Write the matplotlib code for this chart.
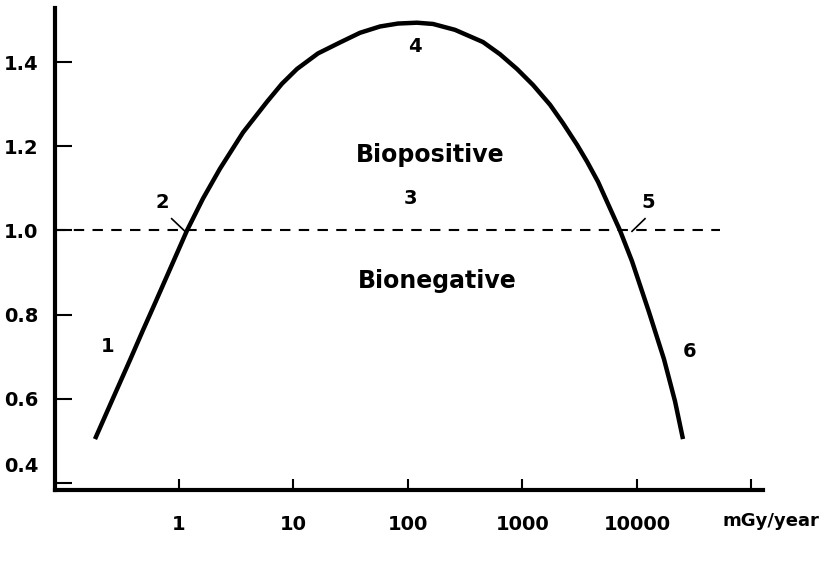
import matplotlib.pyplot as plt
import matplotlib.transforms as mtransforms
from matplotlib.ticker import FixedLocator, NullLocator

# curve (dose in mGy/year, relative response)
dose = [0.1846, 0.2652, 0.3733, 0.4849, 0.6171, 0.8342, 1.175, 1.621, 2.281, 3.622,
        5.870, 7.937, 10.73, 16.37, 25.47, 38.09, 56.95, 81.77, 119.8, 165.3,
        257.4, 451.9, 636.2, 895.3, 1235, 1739, 2258, 2992, 3658, 4564,
        7104, 9044, 12730, 17210, 21480, 25220]
response = [0.504, 0.601, 0.692, 0.763, 0.827, 0.908, 1.0, 1.076, 1.147, 1.233,
            1.306, 1.349, 1.384, 1.421, 1.447, 1.470, 1.485, 1.492, 1.494, 1.491,
            1.477, 1.448, 1.419, 1.384, 1.346, 1.299, 1.255, 1.204, 1.164, 1.116,
            1.0, 0.927, 0.806, 0.694, 0.594, 0.504]

xticks = [1, 10, 100, 1000, 10000, 100000]
xlabels = ['1', '10', '100', '1000', '10000', 'mGy/year']
yticks = [0.4, 0.6, 0.8, 1.0, 1.2, 1.4]

# numbered markers and region names
marks = ['1', '2', '3', '4', '5', '6']
mark_x = [0.24, 0.71, 105, 115, 12600, 29000]
mark_y = [0.724, 1.067, 1.076, 1.438, 1.067, 0.712]
regions = ['Biopositive', 'Bionegative']
region_x = [156, 180]
region_y = [1.179, 0.881]

plt.rcParams['font.family'] = ['DejaVu Sans']
fig = plt.figure(figsize=(8.22, 5.7), dpi=100)
ax = fig.add_axes([0.0669, 0.1404, 0.8613, 0.8456])

ax.plot(dose, response, color='black', lw=3.2, solid_capstyle='butt',
        solid_joinstyle='round')
ax.plot([0.0826, 53000], [1.0, 1.0], color='black', lw=1.5, ls=(0, (5, 4)))

# small pointers at 2 and 5
ax.plot([0.863, 1.128], [1.028, 0.998], color='black', lw=1.2)
ax.plot([11750, 9044], [1.028, 0.998], color='black', lw=1.2)

for t, x, y in zip(marks, mark_x, mark_y):
    ax.text(x, y, t, ha='center', va='center', fontsize=14, fontweight='bold')
for t, x, y in zip(regions, region_x, region_y):
    ax.text(x, y, t, ha='center', va='center', fontsize=17, fontweight='bold')

ax.set_xscale('log')
ax.set_xlim(0.0826, 1.26e5)
ax.set_ylim(0.383, 1.529)

ax.xaxis.set_major_locator(FixedLocator(xticks))
ax.xaxis.set_minor_locator(NullLocator())
ax.set_xticklabels(xlabels)
ax.set_yticks(yticks)
ax.set_yticklabels(['%.1f' % v for v in yticks])

ax.tick_params(axis='y', direction='in', length=12, width=1.5, pad=12, labelsize=14)
ax.tick_params(axis='x', direction='in', length=8, width=1.5, pad=18, labelsize=14)
for lab in ax.get_xticklabels() + ax.get_yticklabels():
    lab.set_fontweight('bold')

# the unit label sits a bit right of its tick, the 0.4 label a bit above its tick
xl = ax.get_xticklabels()[-1]
xl.set_fontsize(13)
xl.set_transform(xl.get_transform() + mtransforms.ScaledTranslation(0.19, 0.03, fig.dpi_scale_trans))
yl = ax.get_yticklabels()[0]
yl.set_transform(yl.get_transform() + mtransforms.ScaledTranslation(0, 0.18, fig.dpi_scale_trans))

for s in ['top', 'right']:
    ax.spines[s].set_visible(False)
for s in ['left', 'bottom']:
    ax.spines[s].set_linewidth(3)

fig.savefig('out.png', dpi=100)
